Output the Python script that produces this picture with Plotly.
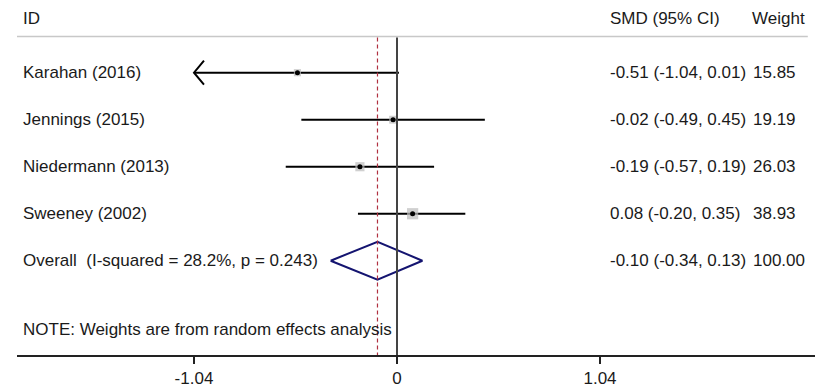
import plotly.graph_objects as go

# Study-level standardized mean differences (random effects meta-analysis)
studies = ["Karahan (2016)", "Jennings (2015)", "Niedermann (2013)", "Sweeney (2002)"]
smd = [-0.51, -0.02, -0.19, 0.08]
lci = [-1.04, -0.49, -0.57, -0.20]
uci = [0.01, 0.45, 0.19, 0.35]
weights = [15.85, 19.19, 26.03, 38.93]

overall_label = "Overall  (I-squared = 28.2%, p = 0.243)"
overall_smd = -0.10
overall_lci = -0.34
overall_uci = 0.13
overall_weight = 100.00

tick_vals = [-1.04, 0, 1.04]
tick_text = ["-1.04", "0", "1.04"]
axis_min = -1.04  # CIs reaching the axis limit get an arrowhead

note = "NOTE: Weights are from random effects analysis"

FONT = "Liberation Sans, Arial, Helvetica, sans-serif"
TXT = "#1a1a1a"

rows = list(range(1, len(studies) + 1))
overall_row = len(studies) + 1
header_row = -0.143
sep_row = 0.23
note_row = 6.453
y_top, y_bottom = -0.5468, 7.006

fig = go.Figure()

# confidence interval lines
for r, lo, hi in zip(rows, lci, uci):
    fig.add_trace(go.Scatter(x=[lo, hi], y=[r, r], mode="lines",
                             line=dict(color="black", width=2),
                             hoverinfo="skip", showlegend=False))
    if lo <= axis_min:
        dx, dy = 0.0512, 0.255
        fig.add_trace(go.Scatter(x=[lo + dx, lo, lo + dx], y=[r - dy, r, r + dy],
                                 mode="lines", line=dict(color="black", width=2),
                                 hoverinfo="skip", showlegend=False))

# weight squares
fig.add_trace(go.Scatter(x=smd, y=rows, mode="markers",
                         marker=dict(symbol="square", color="#bcbcbc",
                                     size=[1.8 * w ** 0.5 for w in weights],
                                     line=dict(width=0)),
                         hoverinfo="skip", showlegend=False))
# point estimates
fig.add_trace(go.Scatter(x=smd, y=rows, mode="markers",
                         marker=dict(symbol="circle", color="black", size=5),
                         hoverinfo="skip", showlegend=False))

# overall diamond
h = 0.404
fig.add_trace(go.Scatter(
    x=[overall_lci, overall_smd, overall_uci, overall_smd, overall_lci],
    y=[overall_row, overall_row - h, overall_row, overall_row + h, overall_row],
    mode="lines", line=dict(color="#141470", width=2),
    hoverinfo="skip", showlegend=False))

shapes = [
    # header rule
    dict(type="line", xref="paper", yref="y", x0=0, x1=0.991, y0=sep_row, y1=sep_row,
         line=dict(color="#c8c8c8", width=1.5)),
    # no-effect line
    dict(type="line", xref="x", yref="y", x0=0, x1=0, y0=sep_row + 0.02, y1=y_bottom,
         line=dict(color="#444444", width=2)),
    # overall effect line
    dict(type="line", xref="x", yref="y", x0=overall_smd, x1=overall_smd,
         y0=sep_row + 0.02, y1=y_bottom,
         line=dict(color="#b03040", width=1.2, dash="4px,3px")),
]

annotations = []

def txt(x, y, s):
    annotations.append(dict(x=x, y=y, xref="paper", yref="y", text=s,
                            showarrow=False, xanchor="left", yanchor="middle",
                            font=dict(family=FONT, size=17, color=TXT)))

col_id = (21 - 17) / 798
col_smd = (608 - 17) / 798
col_w = (751 - 17) / 798
col_wh = (750 - 17) / 798

txt(col_id, header_row, "ID")
txt(col_smd, header_row, "SMD (95% CI)")
txt(col_wh, header_row, "Weight")

for r, name, e, lo, hi, w in zip(rows, studies, smd, lci, uci, weights):
    txt(col_id, r, name)
    txt(col_smd, r, f"{e:.2f} ({lo:.2f}, {hi:.2f})")
    txt(col_w, r, f"{w:.2f}")

txt(col_id, overall_row, overall_label)
txt(col_smd, overall_row, f"{overall_smd:.2f} ({overall_lci:.2f}, {overall_uci:.2f})")
txt(col_w, overall_row, f"{overall_weight:.2f}")
txt(col_id, note_row, note)

fig.update_layout(
    width=815, height=388,
    margin=dict(l=17, r=0, t=0, b=33),
    paper_bgcolor="white", plot_bgcolor="white",
    shapes=shapes, annotations=annotations,
    font=dict(family=FONT, size=17, color=TXT),
    xaxis=dict(range=[-1.9467, 2.1414], tickvals=tick_vals, ticktext=tick_text,
               showgrid=False, zeroline=False, showline=True,
               linecolor="#222222", linewidth=2,
               ticks="outside", ticklen=7, tickwidth=2, tickcolor="#222222",
               tickfont=dict(family=FONT, size=17, color=TXT)),
    yaxis=dict(range=[y_bottom, y_top], visible=False, showgrid=False, zeroline=False),
)

fig.write_html("out.html", config={"displayModeBar": False})
